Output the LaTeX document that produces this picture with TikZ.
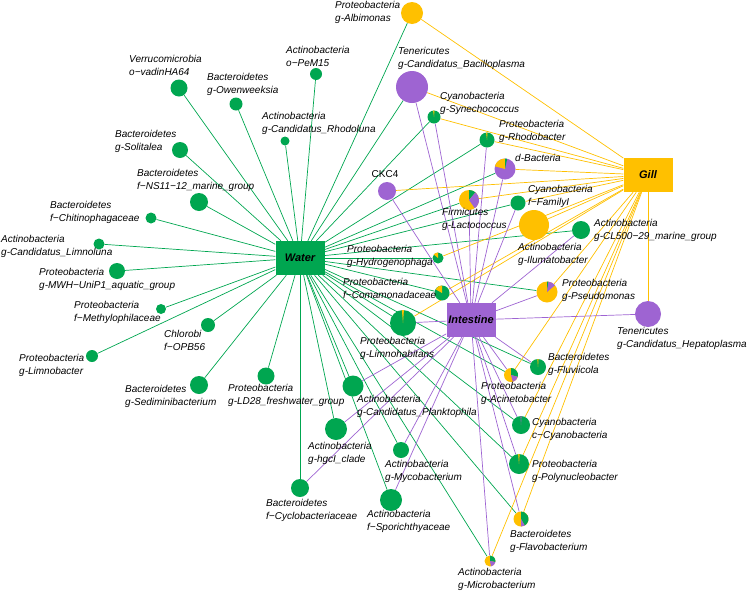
\documentclass[tikz,border=0pt]{standalone}
\usepackage{fontspec}
\setmainfont{Liberation Sans}
\usetikzlibrary{backgrounds}
\definecolor{wgreen}{RGB}{0,166,80}
\definecolor{gorange}{RGB}{255,192,0}
\definecolor{ipurple}{RGB}{158,100,210}
\newcommand{\slice}[5]{\fill[#5] (#1.center) -- ++(#3:#2pt) arc[start angle=#3, end angle=#4, radius=#2pt] -- cycle;}

\begin{document}
\begin{tikzpicture}[x=1pt, y=-1pt,
  hub/.style={rectangle, minimum width=49pt, minimum height=34pt, inner sep=0pt, font=\bfseries\itshape\fontsize{11}{13}\selectfont},
  taxon/.style={circle, inner sep=0pt, minimum size=#1},
  lbl/.style={anchor=west, align=left, inner sep=0pt, font=\itshape\fontsize{10}{13}\selectfont},
  wline/.style={wgreen, line width=0.7pt},
  gline/.style={gorange, line width=0.7pt},
  iline/.style={ipurple, line width=0.7pt}]
\useasboundingbox (0,0) rectangle (750,592);

\node[hub, fill=wgreen] (water) at (300,258) {Water};
\node[hub, fill=gorange] (gill) at (648,175) {Gill};
\node[hub, fill=ipurple] (intestine) at (471,320) {Intestine};

\node[taxon=17pt, fill=wgreen] (vadin) at (179,88) {};
\node[taxon=13pt, fill=wgreen] (owen) at (236,104) {};
\node[taxon=12pt, fill=wgreen] (pem) at (316,74) {};
\node[taxon=9pt, fill=wgreen] (rhodol) at (285,141) {};
\node[taxon=16pt, fill=wgreen] (solit) at (180,150) {};
\node[taxon=18pt, fill=wgreen] (nsmar) at (199,202) {};
\node[taxon=11pt, fill=wgreen] (chitin) at (151,218) {};
\node[taxon=11pt, fill=wgreen] (limnol) at (99,244) {};
\node[taxon=16pt, fill=wgreen] (mwh) at (117,271) {};
\node[taxon=10pt, fill=wgreen] (methyl) at (161,309) {};
\node[taxon=14pt, fill=wgreen] (opb) at (208,325) {};
\node[taxon=12pt, fill=wgreen] (limnob) at (92,356) {};
\node[taxon=18pt, fill=wgreen] (sedim) at (199,385) {};
\node[taxon=17pt, fill=wgreen] (ldfw) at (266,376) {};
\node[taxon=21pt, fill=wgreen] (plankt) at (353,386) {};
\node[taxon=22pt, fill=wgreen] (hgci) at (336,429) {};
\node[taxon=18pt, fill=wgreen] (cyclo) at (300,488) {};
\node[taxon=16pt, fill=wgreen] (myco) at (401,450) {};
\node[taxon=22pt, fill=wgreen] (sporic) at (391,500) {};
\node[taxon=26pt, fill=wgreen] (limnoh) at (403,323) {};
\node[taxon=26pt, fill=ipurple] (hepat) at (648,314) {};
\node[taxon=14pt, fill=gorange] (acinet) at (511,375) {};
\node[taxon=16pt, fill=wgreen] (fluvi) at (538,367) {};
\node[taxon=18pt, fill=wgreen] (ccyan) at (521,425) {};
\node[taxon=20pt, fill=wgreen] (polyn) at (519,464) {};
\node[taxon=15pt, fill=gorange] (flavo) at (521,519) {};
\node[taxon=11pt, fill=gorange] (microb) at (490,561) {};
\node[taxon=22pt, fill=gorange] (albim) at (412,13) {};
\node[taxon=32pt, fill=ipurple] (bacil) at (412,87) {};
\node[taxon=13pt, fill=wgreen] (synec) at (434,117) {};
\node[taxon=15pt, fill=wgreen] (rhodob) at (487,140) {};
\node[taxon=21pt, fill=ipurple] (dbact) at (505,169) {};
\node[taxon=18pt, fill=ipurple] (ckc) at (387,191) {};
\node[taxon=20pt, fill=gorange] (lacto) at (469,200) {};
\node[taxon=15pt, fill=wgreen] (famI) at (518,203) {};
\node[taxon=30pt, fill=gorange] (iluma) at (534,225) {};
\node[taxon=18pt, fill=wgreen] (clmar) at (581,230) {};
\node[taxon=11pt, fill=wgreen] (hydro) at (438,258) {};
\node[taxon=15pt, fill=wgreen] (comam) at (442,293) {};
\node[taxon=21pt, fill=gorange] (pseud) at (547,292) {};

\slice{synec}{6.5}{86}{98}{gorange}
\slice{rhodob}{7.5}{86}{97}{gorange}
\slice{dbact}{10.5}{90}{165}{gorange}
\slice{dbact}{10.5}{78}{90}{wgreen}
\slice{lacto}{10}{50}{90}{wgreen}
\slice{lacto}{10}{-55}{50}{ipurple}
\slice{hydro}{5.5}{90}{140}{gorange}
\slice{comam}{7.5}{90}{150}{gorange}
\slice{limnoh}{13}{86}{95}{gorange}
\slice{pseud}{10.5}{82}{90}{wgreen}
\slice{pseud}{10.5}{40}{82}{ipurple}
\slice{acinet}{7}{-15}{90}{wgreen}
\slice{acinet}{7}{-75}{-15}{ipurple}
\slice{fluvi}{8}{86}{95}{gorange}
\slice{ccyan}{9}{86}{94}{ipurple!60!gray}
\slice{polyn}{10}{86}{95}{gorange}
\slice{flavo}{7.5}{-60}{90}{wgreen}
\slice{flavo}{7.5}{-90}{-60}{ipurple}
\slice{microb}{5.5}{-10}{90}{wgreen}
\slice{microb}{5.5}{-80}{-10}{ipurple}

\begin{scope}[on background layer]
\foreach \t in {vadin,owen,pem,rhodol,solit,nsmar,chitin,limnol,mwh,methyl,opb,limnob,sedim,ldfw,plankt,hgci,cyclo,myco,sporic,limnoh,hydro,comam,acinet,fluvi,ccyan,polyn,flavo,microb,pseud,clmar,famI,lacto,dbact,rhodob,synec,albim,bacil}
  \draw[wline] (water) -- (\t);
\foreach \t in {albim,bacil,synec,rhodob,dbact,ckc,lacto,famI,iluma,hydro,comam,limnoh,pseud,acinet,ccyan,polyn,flavo,microb,hepat}
  \draw[gline] (gill) -- (\t);
\foreach \t in {bacil,synec,rhodob,dbact,ckc,lacto,famI,clmar,pseud,hepat,limnoh,plankt,hgci,cyclo,myco,sporic,microb,flavo,polyn,ccyan,acinet,fluvi}
  \draw[iline] (intestine) -- (\t);
\end{scope}

\node[lbl] (vadinL) at (129,65) {Verrucomicrobia\\o−vadinHA64};
\node[lbl] (owenL) at (207,84.5) {Bacteroidetes\\g-Owenweeksia};
\node[lbl] (pemL) at (286,56) {Actinobacteria\\o−PeM15};
\node[lbl] (rhodolL) at (262,123) {Actinobacteria\\g-Candidatus\_Rhodoluna};
\node[lbl] (solitL) at (115,141.5) {Bacteroidetes\\g-Solitalea};
\node[lbl] (nsmarL) at (137,180.5) {Bacteroidetes\\f−NS11−12\_marine\_group};
\node[lbl] (chitinL) at (50,212.5) {Bacteroidetes\\f−Chitinophagaceae};
\node[lbl] (limnolL) at (1,246.5) {Actinobacteria\\g-Candidatus\_Limnoluna};
\node[lbl] (mwhL) at (39,279.5) {Proteobacteria\\g-MWH−UniP1\_aquatic\_group};
\node[lbl] (methylL) at (74,312) {Proteobacteria\\f−Methylophilaceae};
\node[lbl] (opbL) at (164,340.5) {Chlorobi\\f−OPB56};
\node[lbl] (limnobL) at (19,365.5) {Proteobacteria\\g-Limnobacter};
\node[lbl] (sedimL) at (125,396.5) {Bacteroidetes\\g-Sediminibacterium};
\node[lbl] (ldfwL) at (228,395.5) {Proteobacteria\\g-LD28\_freshwater\_group};
\node[lbl] (planktL) at (357,406) {Actinobacteria\\g-Candidatus\_Planktophila};
\node[lbl] (hgciL) at (308,453) {Actinobacteria\\g-hgcI\_clade};
\node[lbl] (cycloL) at (266,510.5) {Bacteroidetes\\f−Cyclobacteriaceae};
\node[lbl] (mycoL) at (385,471) {Actinobacteria\\g-Mycobacterium};
\node[lbl] (sporicL) at (367,521.5) {Actinobacteria\\f−Sporichthyaceae};
\node[lbl] (limnohL) at (360,348) {Proteobacteria\\g-Limnohabitans};
\node[lbl] (hepatL) at (617,338) {Tenericutes\\g-Candidatus\_Hepatoplasma};
\node[lbl] (acinetL) at (481,393.5) {Proteobacteria\\g-Acinetobacter};
\node[lbl] (fluviL) at (548,364) {Bacteroidetes\\g-Fluviicola};
\node[lbl] (ccyanL) at (532,429.5) {Cyanobacteria\\c−Cyanobacteria};
\node[lbl] (polynL) at (532,471) {Proteobacteria\\g-Polynucleobacter};
\node[lbl] (flavoL) at (510,541.5) {Bacteroidetes\\g-Flavobacterium};
\node[lbl] (microbL) at (458,579.5) {Actinobacteria\\g-Microbacterium};
\node[lbl] (albimL) at (335,12) {Proteobacteria\\g-Albimonas};
\node[lbl] (bacilL) at (398,58.5) {Tenericutes\\g-Candidatus\_Bacilloplasma};
\node[lbl] (synecL) at (440,103) {Cyanobacteria\\g-Synechococcus};
\node[lbl] (rhodobL) at (499,131) {Proteobacteria\\g-Rhodobacter};
\node[lbl] (dbactL) at (515,158) {d-Bacteria};
\node[lbl, anchor=center, font=\fontsize{10}{13}\selectfont] (ckcL) at (385,174) {CKC4};
\node[lbl] (lactoL) at (442,219) {Firmicutes\\g-Lactococcus};
\node[lbl] (famIL) at (528,196) {Cyanobacteria\\f−FamilyI};
\node[lbl] (ilumaL) at (518,254.5) {Actinobacteria\\g-Ilumatobacter};
\node[lbl] (clmarL) at (594,230.5) {Actinobacteria\\g-CL500−29\_marine\_group};
\node[lbl] (hydroL) at (347,256) {Proteobacteria\\g-Hydrogenophaga};
\node[lbl] (comamL) at (343,288.5) {Proteobacteria\\f−Comamonadaceae};
\node[lbl] (pseudL) at (562,290.5) {Proteobacteria\\g-Pseudomonas};
\end{tikzpicture}
\end{document}
